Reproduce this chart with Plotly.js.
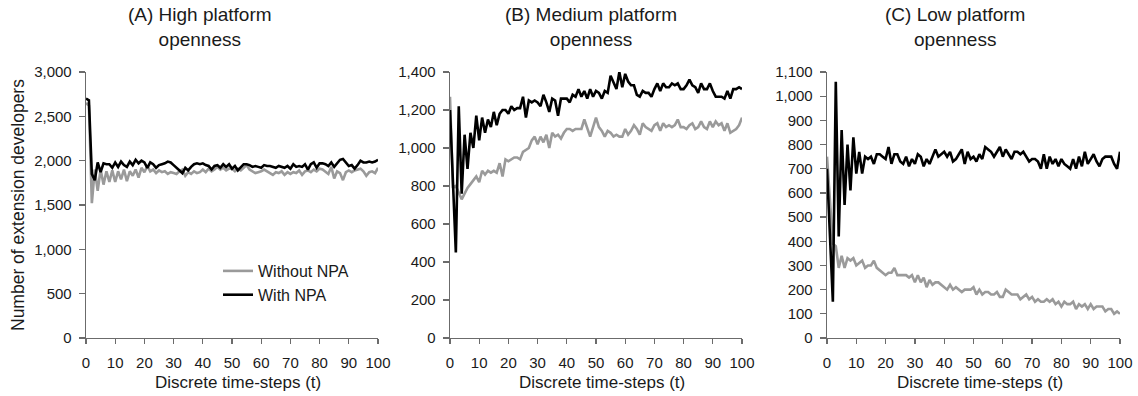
<!DOCTYPE html>
<html>
<head>
<meta charset="utf-8">
<script src="https://cdn.plot.ly/plotly-3.0.1.min.js"></script>
<style>html,body{margin:0;padding:0;background:#fff;}#chart{width:1138px;height:396px;}</style>
</head>
<body>
<div id="chart"></div>
<script>
// Discrete time-steps
const timeSteps = [0,1,2,3,4,5,6,7,8,9,10,11,12,13,14,15,16,17,18,19,20,21,22,23,24,25,26,27,28,29,30,31,32,33,34,35,36,37,38,39,40,41,42,43,44,45,46,47,48,49,50,51,52,53,54,55,56,57,58,59,60,61,62,63,64,65,66,67,68,69,70,71,72,73,74,75,76,77,78,79,80,81,82,83,84,85,86,87,88,89,90,91,92,93,94,95,96,97,98,99,100];

const seriesNames = ["Without NPA", "With NPA"];
const panelTitles = ["(A) High platform<br>openness", "(B) Medium platform<br>openness", "(C) Low platform<br>openness"];
const xTitle = "Discrete time-steps (t)";
const yTitle = "Number of extension developers";

// (A) High platform openness
const highWithout = [2650,2620,1520,1900,1660,1900,1730,1880,1760,1890,
1760,1880,1790,1900,1770,1880,1830,1900,1810,1920,
1870,1940,1880,1900,1860,1890,1870,1880,1850,1870,
1860,1850,1880,1900,1830,1870,1850,1880,1860,1870,
1900,1870,1910,1880,1900,1930,1900,1920,1890,1910,
1910,1880,1910,1890,1920,1950,1900,1880,1860,1870,
1880,1900,1880,1860,1840,1870,1860,1880,1840,1870,
1850,1870,1860,1890,1840,1880,1890,1870,1900,1880,
1910,1900,1870,1850,1930,1800,1880,1860,1780,1870,
1890,1870,1890,1900,1910,1880,1830,1870,1880,1860,
1920];
const highWith = [2700,2680,1850,1780,1980,1870,1970,1960,1960,1920,
1980,1930,1990,1950,1930,1990,1950,2010,1970,2000,
1980,1920,1980,1960,1920,1950,1960,1970,1990,1980,
1950,1920,1900,1860,1920,1890,1930,1960,1970,1960,
1970,1950,1940,1900,1940,1950,1920,1960,1930,1960,
1910,1940,1890,1920,1960,1960,1950,1930,1940,1930,
1920,1950,1940,1940,1930,1920,1940,1930,1920,1940,
1910,1960,1930,1940,1930,1960,1900,1960,1980,1920,
1970,1970,1960,1940,1980,1930,1970,2010,2020,1980,
1940,1950,1910,1950,2000,1980,1980,1990,1980,1990,
2010];

// (B) Medium platform openness
const mediumWithout = [1270,790,800,760,730,760,790,810,830,850,
820,880,860,880,870,880,870,920,850,940,
930,940,950,950,940,980,990,1000,1040,1060,
1020,1060,1030,1070,1000,1080,1060,1070,1050,1080,
1100,1100,1090,1100,1100,1100,1150,1100,1060,1110,
1160,1110,1090,1060,1090,1080,1060,1070,1060,1060,
1100,1070,1090,1120,1100,1070,1130,1110,1100,1090,
1120,1130,1090,1130,1110,1120,1110,1120,1150,1110,
1110,1100,1120,1130,1100,1110,1140,1110,1100,1140,
1110,1140,1120,1130,1090,1130,1080,1090,1100,1120,
1160];
const mediumWith = [1200,820,450,1220,760,1070,890,1080,1000,1170,
1040,1160,1080,1150,1110,1190,1120,1180,1200,1200,
1180,1220,1200,1210,1210,1270,1160,1250,1240,1250,
1240,1220,1280,1240,1190,1260,1250,1170,1260,1260,
1260,1240,1280,1270,1310,1270,1300,1260,1310,1270,
1300,1290,1260,1300,1290,1380,1340,1310,1400,1320,
1390,1350,1330,1330,1280,1270,1300,1290,1290,1270,
1310,1340,1300,1340,1320,1320,1340,1330,1340,1310,
1310,1330,1360,1330,1320,1290,1340,1310,1310,1340,
1300,1270,1270,1270,1260,1300,1260,1310,1310,1320,
1310];

// (C) Low platform openness
const lowWithout = [750,560,390,380,290,340,290,330,320,330,
300,310,320,290,300,300,320,290,280,270,
260,270,270,290,260,260,260,260,250,260,
230,260,230,250,210,240,220,230,230,220,
210,200,220,200,210,200,190,200,200,200,
210,180,200,180,190,190,180,180,190,170,
170,200,190,180,180,180,160,170,180,160,
170,150,160,150,150,160,150,160,140,150,
130,150,140,140,150,120,140,130,140,120,
140,120,130,130,130,110,120,120,100,110,
100];
const lowWith = [700,420,150,1060,420,860,550,800,610,830,
680,770,680,750,740,750,720,760,760,750,
740,790,720,760,760,730,720,750,710,740,
720,760,750,710,740,720,750,780,750,760,
770,750,770,730,740,760,780,720,770,740,
750,730,760,740,790,780,770,750,770,790,
750,780,760,740,770,770,760,770,750,730,
740,740,730,700,760,700,750,720,740,710,
740,720,710,700,740,700,750,710,770,720,
740,760,730,710,740,750,750,750,720,700,
770];

const yMax = [3000, 1400, 1100];
const yStep = [500, 200, 100];

const W = 1138, H = 396;
const FONT = "Liberation Sans, Arial, sans-serif";
const GRAY = "#9a9a9a", BLACK = "#000000", AXIS = "#6b6b6b", TEXT = "#1a1a1a";

const xDom = [[86/W, 378/W], [450/W, 742/W], [827/W, 1120/W]];
const yDom = [1 - 338/H, 1 - 72/H];

const panels = [[highWithout, highWith], [mediumWithout, mediumWith], [lowWithout, lowWith]];
const traces = [];
panels.forEach((p, i) => {
  const sfx = i === 0 ? "" : String(i + 1);
  traces.push({x: timeSteps, y: p[0], type: "scatter", mode: "lines", name: seriesNames[0],
    line: {color: GRAY, width: 2.6}, xaxis: "x" + sfx, yaxis: "y" + sfx, showlegend: i === 0, hoverinfo: "skip"});
  traces.push({x: timeSteps, y: p[1], type: "scatter", mode: "lines", name: seriesNames[1],
    line: {color: BLACK, width: 2.6}, xaxis: "x" + sfx, yaxis: "y" + sfx, showlegend: i === 0, hoverinfo: "skip"});
});

const layout = {
  width: W, height: H,
  margin: {l: 0, r: 0, t: 0, b: 0},
  paper_bgcolor: "#fff", plot_bgcolor: "#fff",
  font: {family: FONT, size: 15, color: TEXT},
  showlegend: true,
  legend: {x: 218/W, xanchor: "left", y: (H - 254)/H, yanchor: "top", bgcolor: "rgba(0,0,0,0)",
    font: {family: FONT, size: 16, color: TEXT}},
  annotations: []
};

const titleX = [200, 591, 955];
const axTitleX = [238, 602, 980];
for (let i = 0; i < 3; i++) {
  const sfx = i === 0 ? "" : String(i + 1);
  layout["xaxis" + sfx] = {
    domain: xDom[i], anchor: "y" + sfx, range: [0, 100], dtick: 10, tick0: 0,
    showgrid: false, zeroline: false, showline: true, linecolor: AXIS, linewidth: 1.3,
    ticks: "outside", ticklen: 5, tickcolor: AXIS, tickwidth: 1.3,
    ticklabelstandoff: 6, tickfont: {family: FONT, size: 15, color: TEXT}, fixedrange: true
  };
  layout["yaxis" + sfx] = {
    domain: yDom, anchor: "x" + sfx, range: [0, yMax[i]], dtick: yStep[i], tick0: 0,
    tickformat: ",d", showgrid: false, zeroline: false, showline: true, linecolor: AXIS, linewidth: 1.3,
    ticks: "outside", ticklen: 6, tickcolor: AXIS, tickwidth: 1.3,
    ticklabelstandoff: 4, tickfont: {family: FONT, size: 15, color: TEXT}, fixedrange: true
  };
  layout.annotations.push({text: panelTitles[i], xref: "paper", yref: "paper",
    x: titleX[i]/W, y: (H - 27.5)/H, xanchor: "center", yanchor: "middle", showarrow: false,
    font: {family: FONT, size: 19, color: TEXT}});
  layout.annotations.push({text: xTitle, xref: "paper", yref: "paper",
    x: axTitleX[i]/W, y: (H - 382)/H, xanchor: "center", yanchor: "middle", showarrow: false,
    font: {family: FONT, size: 17, color: TEXT}});
}
layout.annotations.push({text: yTitle, xref: "paper", yref: "paper", textangle: -90,
  x: 18/W, y: (H - 205)/H, xanchor: "center", yanchor: "middle", showarrow: false,
  font: {family: FONT, size: 17.5, color: TEXT}});

Plotly.newPlot("chart", traces, layout, {displayModeBar: false, staticPlot: true});
</script>
</body>
</html>
